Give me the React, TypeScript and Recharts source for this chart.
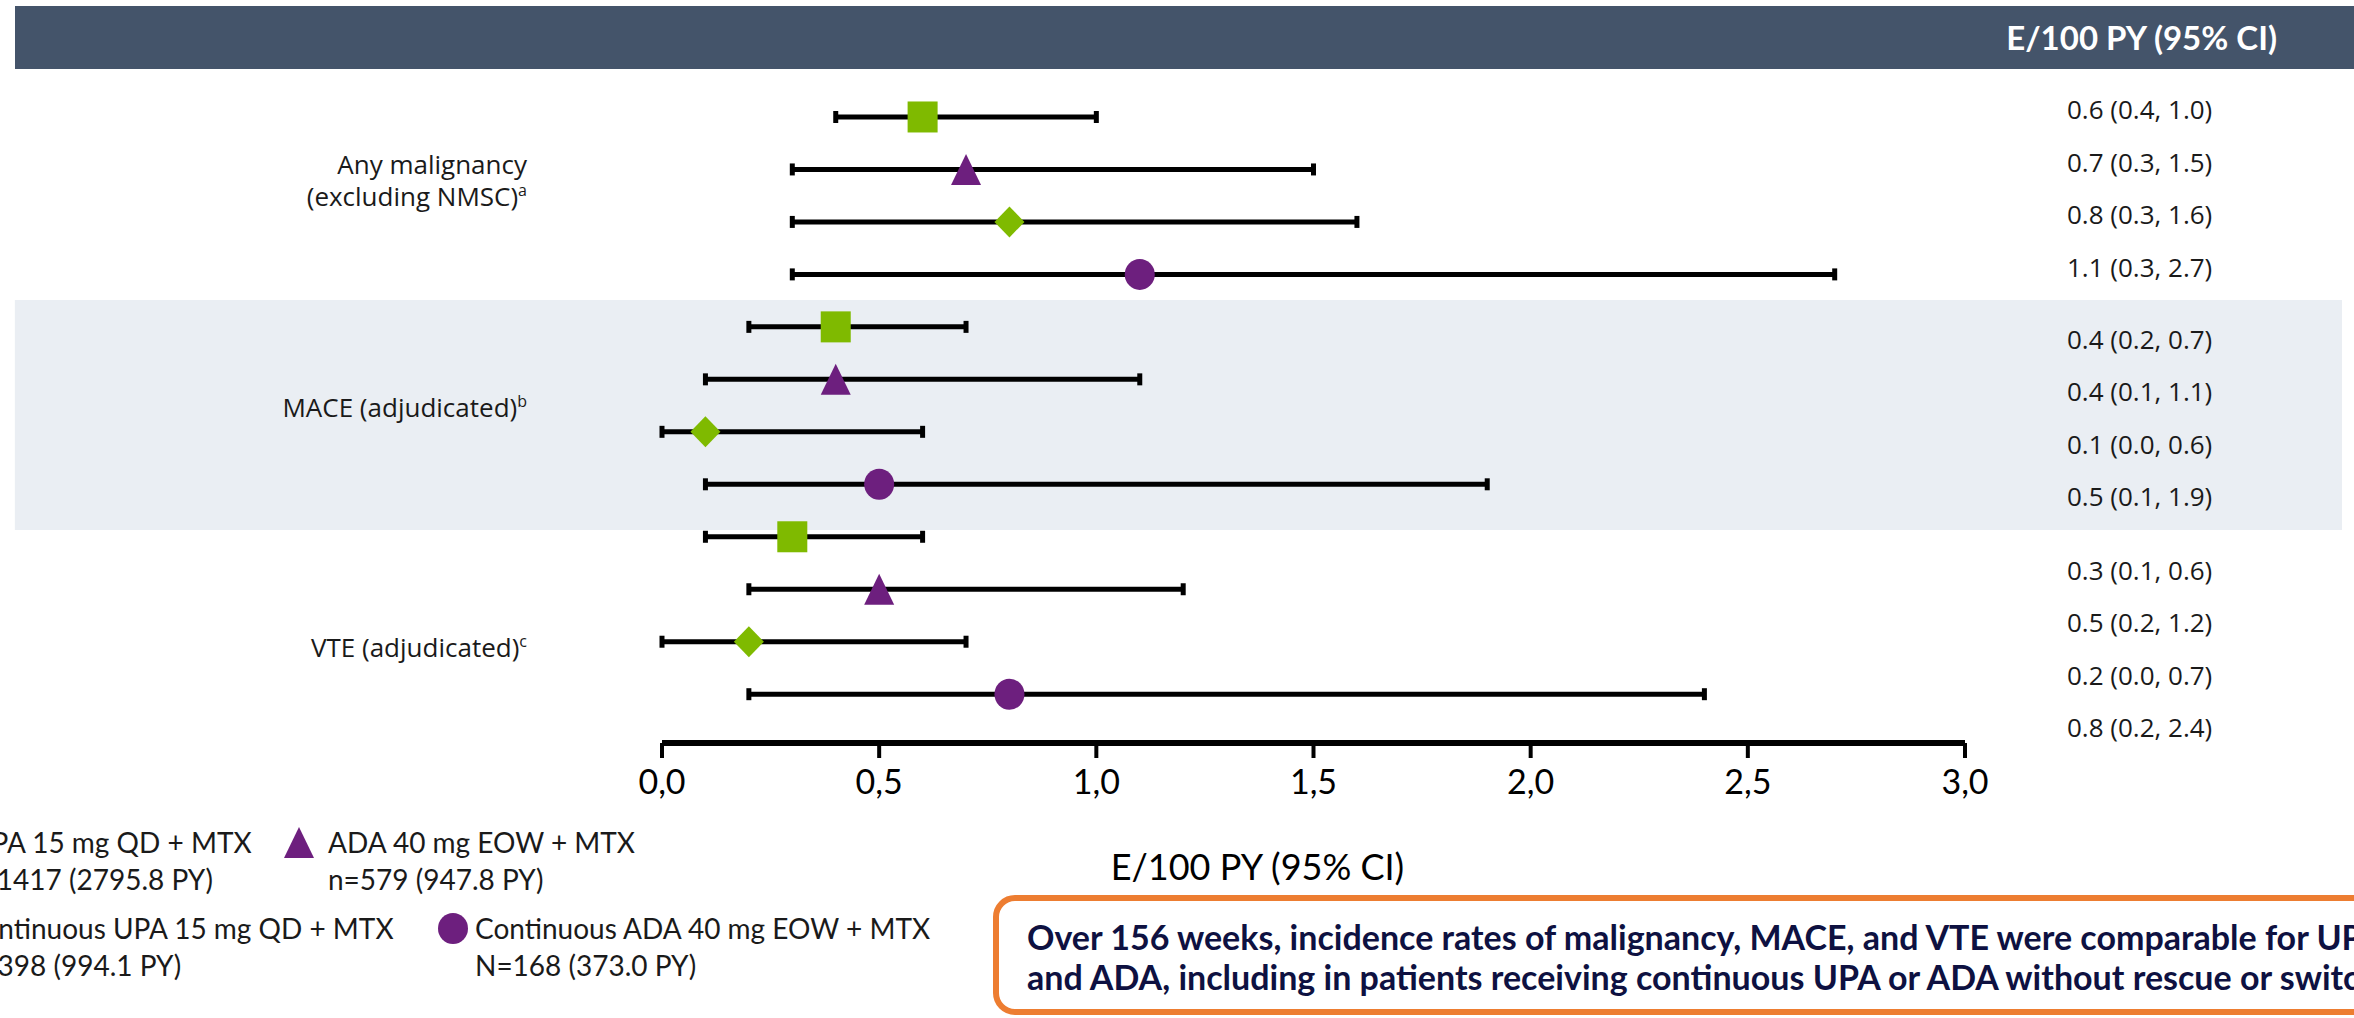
import React from 'react';
import { ErrorBar, Legend, ReferenceArea, Scatter, ScatterChart, XAxis, YAxis } from 'recharts';

// outcomes (row groups)
const outcomeLines = [['Any malignancy', '(excluding NMSC)'], ['MACE (adjudicated)'], ['VTE (adjudicated)']];
const outcomeNotes = ['a', 'b', 'c'];

// treatment arms
const treatments = [
  'UPA 15 mg QD + MTX',
  'ADA 40 mg EOW + MTX',
  'Continuous UPA 15 mg QD + MTX',
  'Continuous ADA 40 mg EOW + MTX',
];
const treatmentCounts = ['n=1417 (2795.8 PY)', 'n=579 (947.8 PY)', 'N=398 (994.1 PY)', 'N=168 (373.0 PY)'];

// E/100 PY and 95% CI, per outcome: [malignancy, MACE, VTE]
const upaRate = [0.6, 0.4, 0.3];
const upaLow = [0.4, 0.2, 0.1];
const upaHigh = [1.0, 0.7, 0.6];
const adaRate = [0.7, 0.4, 0.5];
const adaLow = [0.3, 0.1, 0.2];
const adaHigh = [1.5, 1.1, 1.2];
const contUpaRate = [0.8, 0.1, 0.2];
const contUpaLow = [0.3, 0.0, 0.0];
const contUpaHigh = [1.6, 0.6, 0.7];
const contAdaRate = [1.1, 0.5, 0.8];
const contAdaLow = [0.3, 0.1, 0.2];
const contAdaHigh = [2.7, 1.9, 2.4];

const xTicks = [0, 0.5, 1, 1.5, 2, 2.5, 3];

const GREEN = '#7FBA00';
const PURPLE = '#6D1F7E';
const TEXT = '#1a1a1a';

// layout (row units on the y scale)
const ROW_DOMAIN: [number, number] = [-1, 11.93];
const groupLabelPos = [1.22, 5.55, 10.12];
const ciShift = [-0.13, 0.25, 0.65];

type Kind = 'square' | 'triangle' | 'diamond' | 'circle';

const arms = [
  { rate: upaRate, low: upaLow, high: upaHigh, color: GREEN, kind: 'square' as Kind },
  { rate: adaRate, low: adaLow, high: adaHigh, color: PURPLE, kind: 'triangle' as Kind },
  { rate: contUpaRate, low: contUpaLow, high: contUpaHigh, color: GREEN, kind: 'diamond' as Kind },
  { rate: contAdaRate, low: contAdaLow, high: contAdaHigh, color: PURPLE, kind: 'circle' as Kind },
];

const seriesData = arms.map((a, si) =>
  a.rate.map((r, oi) => ({
    row: oi * 4 + si,
    rate: r,
    err: [r - a.low[oi], a.high[oi] - r],
  })),
);

const ciRows: number[] = [];
const ciLabels: string[] = [];
outcomeLines.forEach((_, oi) => {
  arms.forEach((a, si) => {
    ciRows.push(oi * 4 + si + ciShift[oi]);
    ciLabels.push(`${a.rate[oi].toFixed(1)} (${a.low[oi].toFixed(1)}, ${a.high[oi].toFixed(1)})`);
  });
});
const ciAnchors = ciRows.map((row) => ({ row, rate: 0 }));

function Marker({ kind, cx, cy, color }: { kind: Kind; cx: number; cy: number; color: string }) {
  const w = 15;
  const h = 15.5;
  if (kind === 'square') return <rect x={cx - w} y={cy - h} width={w * 2} height={h * 2} fill={color} />;
  if (kind === 'triangle')
    return <polygon points={`${cx},${cy - h} ${cx + w},${cy + h} ${cx - w},${cy + h}`} fill={color} />;
  if (kind === 'diamond')
    return <polygon points={`${cx},${cy - h} ${cx + w},${cy} ${cx},${cy + h} ${cx - w},${cy}`} fill={color} />;
  return <ellipse cx={cx} cy={cy} rx={w} ry={h} fill={color} />;
}

function GroupTick(props: any) {
  const { x, y, index } = props;
  const lines = outcomeLines[index];
  const lh = 32;
  return (
    <text x={x} y={y} textAnchor="end" fontFamily="Open Sans" fontSize={26} fill={TEXT}>
      {lines.map((l, i) => (
        <tspan key={i} x={x} y={y + (i - (lines.length - 1) / 2) * lh + 9}>
          {l}
          {i === lines.length - 1 ? (
            <tspan fontSize={16} dy={-10}>
              {outcomeNotes[index]}
            </tspan>
          ) : null}
        </tspan>
      ))}
    </text>
  );
}

function CiTick(props: any) {
  const { x, y, index } = props;
  return (
    <text x={x} y={y + 9} fontFamily="Open Sans" fontSize={26} fill={TEXT}>
      {ciLabels[index]}
    </text>
  );
}

// the first legend column runs off the left edge, as in the source slide
const legendSpots = [
  { left: -29, left2: -35, top: 4, mx: -50 },
  { left: 328, left2: 328, top: 4, mx: 299 },
  { left: -36, left2: -40, top: 90, mx: -60 },
  { left: 475, left2: 475, top: 90, mx: 453 },
];

function renderLegend() {
  const textStyle: React.CSSProperties = {
    position: 'absolute',
    fontFamily: 'Lato',
    fontSize: 28,
    lineHeight: '37px',
    color: TEXT,
    whiteSpace: 'nowrap',
  };
  return (
    <div style={{ position: 'relative', width: 1000, height: 170 }}>
      {arms.map((a, i) => {
        const s = legendSpots[i];
        return (
          <React.Fragment key={i}>
            <svg width={32} height={33} style={{ position: 'absolute', left: s.mx - 16, top: s.top + 2 }}>
              <Marker kind={a.kind} cx={16} cy={16.5} color={a.color} />
            </svg>
            <div style={{ ...textStyle, left: s.left, top: s.top }}>{treatments[i]}</div>
            <div style={{ ...textStyle, left: s.left2, top: s.top + 37 }}>{treatmentCounts[i]}</div>
          </React.Fragment>
        );
      })}
    </div>
  );
}

export default function App() {
  return (
    <div
      style={{
        position: 'absolute',
        left: 0,
        top: 0,
        width: 2354,
        height: 1018,
        overflow: 'hidden',
        background: '#fff',
      }}
    >
      <div
        style={{
          position: 'absolute',
          left: 15,
          top: 6,
          width: 2339,
          height: 63,
          background: '#44546A',
          color: '#fff',
          fontFamily: 'Lato',
          fontWeight: 700,
          fontSize: 33,
          lineHeight: '63px',
          textAlign: 'right',
          paddingRight: 77,
          boxSizing: 'border-box',
        }}
      >
        E/100 PY (95% CI)
      </div>

      <div style={{ position: 'absolute', left: 0, top: 0 }}>
        <ScatterChart width={2354} height={1018} margin={{ top: 64.5, right: 9, bottom: 175, left: 0 }}>
          <ReferenceArea
            xAxisId="x"
            yAxisId="rows"
            x1={-1.49}
            x2={3.868}
            y1={3.49}
            y2={7.87}
            fill="#EAEEF3"
            fillOpacity={1}
            stroke="none"
            ifOverflow="visible"
          />
          <XAxis
            xAxisId="x"
            type="number"
            dataKey="rate"
            domain={[0, 3]}
            ticks={xTicks}
            interval={0}
            height={100}
            axisLine={{ stroke: '#000', strokeWidth: 6 }}
            tickLine={{ stroke: '#000', strokeWidth: 4 }}
            tickSize={15}
            tickMargin={12}
            tick={{ fontSize: 34, fill: '#000', fontFamily: 'Lato' }}
            tickFormatter={(v: number) => v.toFixed(1).replace('.', ',')}
            label={{
              content: (p: any) => {
                const vb = p.viewBox;
                return (
                  <text
                    x={vb.x + vb.width / 2 - 56}
                    y={vb.y + 123}
                    textAnchor="middle"
                    dominantBaseline="central"
                    fontFamily="Lato"
                    fontSize={36}
                    fill="#000"
                  >
                    E/100 PY (95% CI)
                  </text>
                );
              },
            }}
          />
          <YAxis
            yAxisId="rows"
            type="number"
            dataKey="row"
            reversed
            domain={ROW_DOMAIN}
            ticks={groupLabelPos}
            interval={0}
            width={662}
            axisLine={false}
            tickLine={false}
            tickSize={0}
            tickMargin={135}
            tick={<GroupTick />}
          />
          <YAxis
            yAxisId="ci"
            orientation="right"
            type="number"
            dataKey="row"
            reversed
            allowDataOverflow
            domain={ROW_DOMAIN}
            ticks={ciRows}
            interval={0}
            width={380}
            axisLine={false}
            tickLine={false}
            tickSize={0}
            tickMargin={102}
            tick={<CiTick />}
          />
          <Scatter
            data={ciAnchors}
            xAxisId="x"
            yAxisId="ci"
            legendType="none"
            isAnimationActive={false}
            shape={() => <g />}
          />
          {arms.map((a, si) => (
            <Scatter
              key={si}
              name={treatments[si]}
              data={seriesData[si]}
              xAxisId="x"
              yAxisId="rows"
              fill={a.color}
              isAnimationActive={false}
              shape={(p: any) => <Marker kind={a.kind} cx={p.cx} cy={p.cy} color={a.color} />}
            >
              <ErrorBar dataKey="err" direction="x" width={6} strokeWidth={5} stroke="#000" />
            </Scatter>
          ))}
          <Legend
            layout="vertical"
            align="center"
            verticalAlign="middle"
            content={renderLegend}
            wrapperStyle={{ left: 0, top: 820, width: 1000, height: 170 }}
          />
        </ScatterChart>
      </div>

      <div
        style={{
          position: 'absolute',
          left: 993,
          top: 895,
          width: 1500,
          height: 120,
          border: '6px solid #ED7D31',
          borderRadius: 22,
          boxSizing: 'border-box',
          padding: '16px 0 0 28px',
          fontFamily: 'Lato',
          fontWeight: 700,
          fontSize: 34,
          lineHeight: '40px',
          color: '#0E1141',
          whiteSpace: 'nowrap',
        }}
      >
        Over 156 weeks, incidence rates of malignancy, MACE, and VTE were comparable for UPA
        <br />
        and ADA, including in patients receiving continuous UPA or ADA without rescue or switching
      </div>
    </div>
  );
}
